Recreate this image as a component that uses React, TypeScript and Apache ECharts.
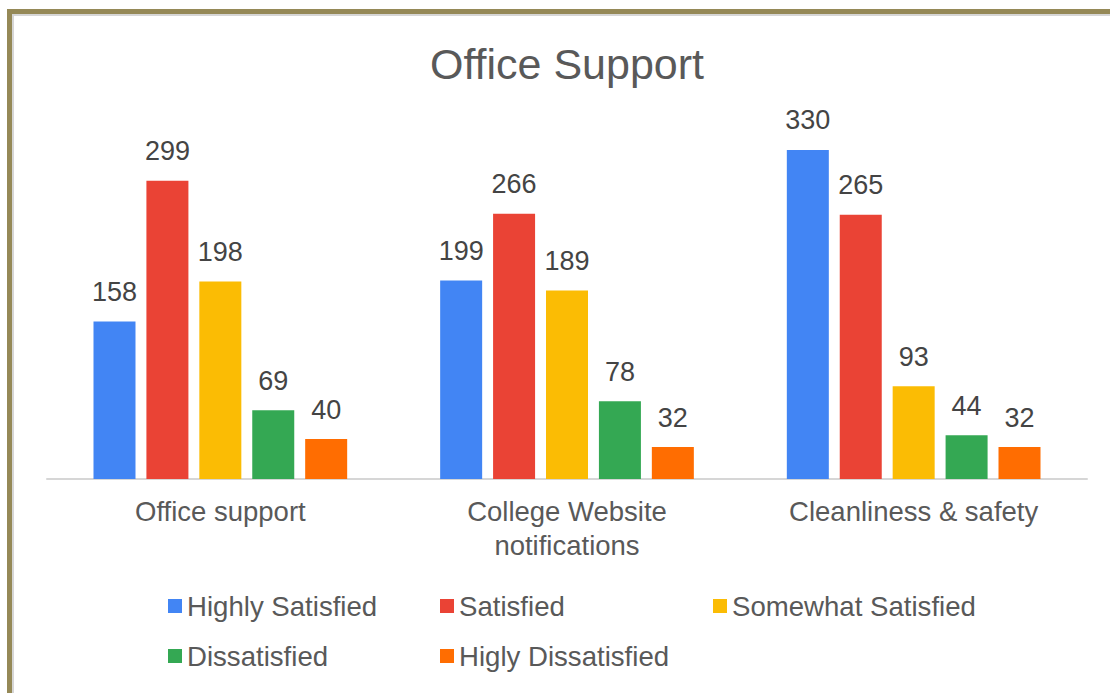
import React, { useEffect, useRef } from "react";
import * as echarts from "echarts";

const categories = ["Office support", "College Website\nnotifications", "Cleanliness & safety"];
const seriesNames = ["Highly Satisfied", "Satisfied", "Somewhat Satisfied", "Dissatisfied", "Higly Dissatisfied"];
const highlySatisfied = [158, 199, 330];
const satisfied = [299, 266, 265];
const somewhatSatisfied = [198, 189, 93];
const dissatisfied = [69, 78, 44];
const higlyDissatisfied = [40, 32, 32];
const colors = ["#4285F4", "#EA4335", "#FBBC04", "#34A853", "#FF6D01"];

const FONT = "Arial, 'Liberation Sans', sans-serif";

export default function App() {
  const ref = useRef<HTMLDivElement>(null);
  useEffect(() => {
    if (!ref.current) return;
    const chart = echarts.init(ref.current, undefined, { renderer: "svg" });
    const values = [highlySatisfied, satisfied, somewhatSatisfied, dissatisfied, higlyDissatisfied];
    const legendPos = [
      { left: 168, top: 592 },
      { left: 440, top: 592 },
      { left: 713, top: 592 },
      { left: 168, top: 642 },
      { left: 440, top: 642 },
    ];
    chart.setOption({
      animation: false,
      backgroundColor: "transparent",
      textStyle: { fontFamily: FONT },
      title: {
        text: "Office Support",
        left: 562,
        top: 37,
        textAlign: "center",
        textStyle: { fontFamily: FONT, fontSize: 43, fontWeight: "normal", color: "#595959", lineHeight: 43 },
      },
      legend: seriesNames.map((n, i) => ({
        data: [n],
        left: legendPos[i].left,
        top: legendPos[i].top,
        padding: 0,
        itemWidth: 14,
        itemHeight: 14,
        icon: "rect",
        textStyle: { fontFamily: FONT, fontSize: 27.6, color: "#595959", lineHeight: 27 },
      })),
      grid: { left: 47, width: 1040, top: 130, height: 349, containLabel: false },
      xAxis: {
        type: "category",
        data: categories,
        axisLine: { show: true, lineStyle: { color: "#d6d6d6", width: 2 } },
        axisTick: { show: false },
        axisLabel: { fontFamily: FONT, fontSize: 27.5, color: "#595959", margin: 15, lineHeight: 34, interval: 0 },
      },
      yAxis: {
        type: "value",
        min: 0,
        max: 350,
        show: false,
        splitLine: { show: false },
      },
      series: seriesNames.map((n, i) => ({
        name: n,
        type: "bar",
        data: values[i],
        barWidth: 42,
        barGap: "26%",
        itemStyle: { color: colors[i] },
        label: {
          show: true,
          position: "top",
          distance: 16,
          fontFamily: FONT,
          fontSize: 27,
          lineHeight: 27,
          color: "#444444",
        },
      })),
    });
    return () => chart.dispose();
  }, []);
  return (
    <div style={{ position: "absolute", left: 0, top: 0, width: 1110, height: 693, overflow: "hidden", background: "#fff" }}>
      <div style={{ position: "absolute", left: 7, top: 9, width: 1300, height: 900, borderTop: "5px solid #958957", borderLeft: "5px solid #958957", boxSizing: "border-box" }} />
      <div style={{ position: "absolute", left: 12, top: 14, width: 1300, height: 900, borderTop: "2px solid #d6d6d6", borderLeft: "2px solid #d6d6d6", boxSizing: "border-box" }} />
      <div ref={ref} style={{ position: "absolute", left: 0, top: 0, width: 1110, height: 693 }} />
    </div>
  );
}
